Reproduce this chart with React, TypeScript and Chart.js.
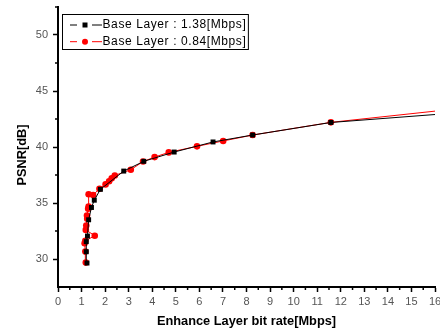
import React, { useEffect, useRef } from 'react';
import { Chart, registerables } from 'chart.js';

Chart.register(...registerables);

const seriesLabels = ['Base Layer : 1.38[Mbps]', 'Base Layer : 0.84[Mbps]'];
const seriesColors = ['#000000', '#ff0000'];

const blackRate = [1.23, 1.2, 1.2, 1.25, 1.3, 1.42, 1.54, 1.8, 2.79, 3.64, 4.93, 6.58, 8.26, 11.58, 17.0];
const blackPsnr = [29.64, 30.65, 31.55, 32.05, 33.5, 34.6, 35.25, 36.22, 37.85, 38.72, 39.55, 40.45, 41.07, 42.19, 43.06];

const redRate = [1.18, 1.16, 1.13, 1.16, 1.56, 1.18, 1.2, 1.24, 1.23, 1.28, 1.3, 1.3, 1.49, 1.76, 2.02, 2.17, 2.28, 2.41, 3.09, 3.61, 4.1, 4.7, 5.9, 7.01, 8.26, 11.58, 17.0];
const redPsnr = [29.68, 30.66, 31.4, 31.62, 32.08, 32.6, 32.98, 33.6, 33.88, 34.48, 34.68, 35.78, 35.72, 36.27, 36.66, 36.94, 37.2, 37.46, 37.97, 38.7, 39.1, 39.52, 40.06, 40.54, 41.07, 42.2, 43.43];

const xTicks = [0, 1, 2, 3, 4, 5, 6, 7, 8, 9, 10, 11, 12, 13, 14, 15, 16];
const yTicks = [30, 35, 40, 45, 50];
const xMinorTicks = [0.5, 1.5, 2.5, 3.5, 4.5, 5.5, 6.5, 7.5, 8.5, 9.5, 10.5, 11.5, 12.5, 13.5, 14.5, 15.5];
const yMinorTicks = [32.5, 37.5, 42.5, 47.5, 52.5];

const xTitle = 'Enhance Layer bit rate[Mbps]';
const yTitle = 'PSNR[dB]';

const fontFamily = '"Liberation Sans", Arial, Helvetica, sans-serif';

const minorTicksPlugin = {
  id: 'minorTicks',
  afterDraw(chart: any) {
    const { ctx, scales, chartArea } = chart;
    const x = scales.x;
    const y = scales.y;
    ctx.save();
    ctx.strokeStyle = '#000';
    ctx.lineWidth = 1.5;
    xMinorTicks.forEach((v) => {
      const px = x.getPixelForValue(v);
      ctx.beginPath();
      ctx.moveTo(px, chartArea.bottom);
      ctx.lineTo(px, chartArea.bottom + 3);
      ctx.stroke();
    });
    yMinorTicks.forEach((v) => {
      const py = y.getPixelForValue(v);
      ctx.beginPath();
      ctx.moveTo(chartArea.left, py);
      ctx.lineTo(chartArea.left - 3, py);
      ctx.stroke();
    });
    ctx.restore();
  },
};

const yTitlePlugin = {
  id: 'yTitle',
  afterDraw(chart: any) {
    const { ctx, chartArea } = chart;
    ctx.save();
    ctx.translate(22, (chartArea.top + chartArea.bottom) / 2 + 8);
    ctx.rotate(-Math.PI / 2);
    ctx.font = `bold 12.8px ${fontFamily}`;
    ctx.fillStyle = '#000';
    ctx.textAlign = 'center';
    ctx.textBaseline = 'middle';
    ctx.fillText(yTitle, 0, 0);
    ctx.restore();
  },
};

const boxLegendPlugin = {
  id: 'boxLegend',
  afterDraw(chart: any) {
    const { ctx, chartArea } = chart;
    const datasets = chart.data.datasets;
    const left = chartArea.left + 4.5;
    const top = 14.5;
    const rowH = 16.7;
    const textX = left + 40;
    ctx.save();
    ctx.font = `12px ${fontFamily}`;
    (ctx as any).letterSpacing = '0.6px';
    let maxW = 0;
    datasets.forEach((ds: any) => {
      maxW = Math.max(maxW, ctx.measureText(ds.label).width);
    });
    const right = textX + maxW + 2;
    ctx.strokeStyle = '#000';
    ctx.lineWidth = 1;
    ctx.strokeRect(left, top, right - left, 35);
    datasets.forEach((ds: any, i: number) => {
      const cy = 25 + i * rowH;
      const mx = left + 22.5;
      ctx.strokeStyle = ds.borderColor;
      ctx.lineWidth = 1;
      ctx.beginPath();
      ctx.moveTo(left + 7.5, cy);
      ctx.lineTo(left + 14.5, cy);
      ctx.moveTo(left + 29.5, cy);
      ctx.lineTo(left + 39.5, cy);
      ctx.stroke();
      ctx.fillStyle = ds.pointBackgroundColor;
      if (ds.pointStyle === 'rect') {
        ctx.fillRect(mx - 2.5, cy - 2.5, 5, 5);
      } else {
        ctx.beginPath();
        ctx.arc(mx, cy, 3, 0, Math.PI * 2);
        ctx.fill();
      }
      ctx.fillStyle = '#000';
      ctx.textBaseline = 'middle';
      ctx.textAlign = 'left';
      ctx.fillText(ds.label, textX, cy);
    });
    ctx.restore();
  },
};

export default function App() {
  const canvasRef = useRef<HTMLCanvasElement | null>(null);

  useEffect(() => {
    document.body.style.margin = '0';
    const canvas = canvasRef.current;
    if (!canvas) return;
    const chart = new Chart(canvas, {
      type: 'scatter',
      data: {
        datasets: [
          {
            label: seriesLabels[0],
            data: blackRate.map((x, i) => ({ x, y: blackPsnr[i] })),
            showLine: true,
            borderColor: seriesColors[0],
            borderWidth: 1,
            pointStyle: 'rect',
            pointRadius: 3.5,
            pointBackgroundColor: seriesColors[0],
            pointBorderWidth: 0,
            tension: 0,
          },
          {
            label: seriesLabels[1],
            data: redRate.map((x, i) => ({ x, y: redPsnr[i] })),
            showLine: true,
            borderColor: seriesColors[1],
            borderWidth: 1,
            pointStyle: 'circle',
            pointRadius: 3.3,
            pointBackgroundColor: seriesColors[1],
            pointBorderWidth: 0,
            tension: 0,
          },
        ],
      } as any,
      options: {
        animation: false,
        responsive: false,
        maintainAspectRatio: false,
        events: [],
        layout: { padding: { top: 7, right: 5, left: 0, bottom: 0 } },
        plugins: {
          legend: { display: false },
          tooltip: { enabled: false },
        },
        scales: {
          x: {
            type: 'linear',
            min: 0,
            max: 16,
            afterBuildTicks: (s: any) => {
              s.ticks = xTicks.map((v) => ({ value: v }));
            },
            afterFit: (s: any) => {
              s.height = 43;
              s.paddingLeft = 0;
              s.paddingRight = 0;
            },
            ticks: {
              color: '#555',
              font: { family: fontFamily, size: 11 },
              padding: 3,
              maxRotation: 0,
              autoSkip: false,
              callback: (v: any) => String(v),
            },
            grid: {
              display: true,
              drawOnChartArea: false,
              drawTicks: true,
              tickLength: 5,
              tickColor: '#000',
              tickWidth: 1.5,
            },
            border: { display: true, color: '#000', width: 2 },
            title: {
              display: true,
              text: xTitle,
              color: '#000',
              font: { family: fontFamily, size: 12.8, weight: 'bold' },
              padding: { top: 0, bottom: 1 },
            },
          },
          y: {
            type: 'linear',
            min: 27.5,
            max: 52.5,
            afterBuildTicks: (s: any) => {
              s.ticks = yTicks.map((v) => ({ value: v }));
            },
            afterFit: (s: any) => {
              s.width = 58;
              s.paddingTop = 0;
              s.paddingBottom = 0;
            },
            ticks: {
              color: '#555',
              font: { family: fontFamily, size: 11 },
              padding: 5,
              autoSkip: false,
              callback: (v: any) => String(v),
            },
            grid: {
              display: true,
              drawOnChartArea: false,
              drawTicks: true,
              tickLength: 5,
              tickColor: '#000',
              tickWidth: 1.5,
            },
            border: { display: true, color: '#000', width: 2 },
            title: { display: false },
          },
        },
      } as any,
      plugins: [minorTicksPlugin, yTitlePlugin, boxLegendPlugin],
    });
    return () => {
      chart.destroy();
    };
  }, []);

  return (
    <div style={{ width: 440, height: 330 }}>
      <canvas ref={canvasRef} width={440} height={330} style={{ display: 'block', width: 440, height: 330 }} />
    </div>
  );
}
